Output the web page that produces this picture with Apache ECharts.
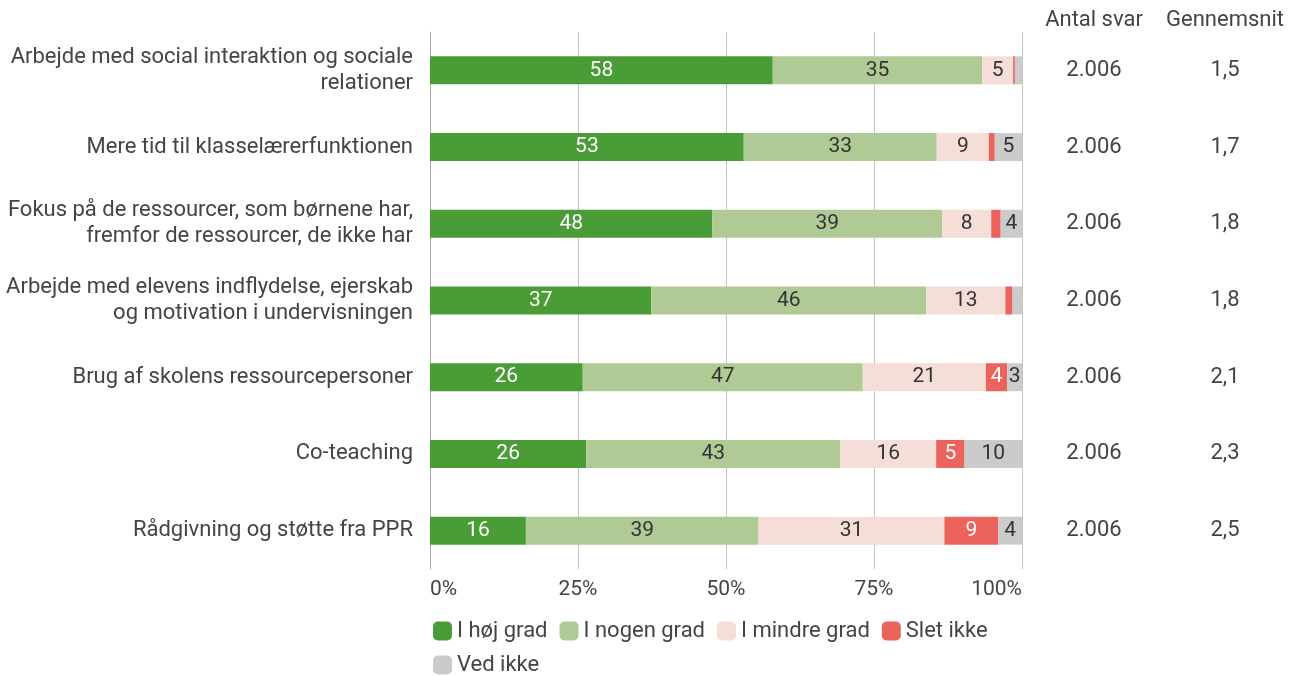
<!DOCTYPE html>
<html>
<head>
<meta charset="utf-8">
<script src="https://cdn.jsdelivr.net/npm/echarts@6/dist/echarts.min.js"></script>
<style>
  html, body { margin: 0; padding: 0; background: #fff; }
  #chart { width: 1298px; height: 676px; }
</style>
</head>
<body>
<div id="chart"></div>
<script>
const categories = [
  "Arbejde med social interaktion og sociale\nrelationer",
  "Mere tid til klasselærerfunktionen",
  "Fokus på de ressourcer, som børnene har,\nfremfor de ressourcer, de ikke har",
  "Arbejde med elevens indflydelse, ejerskab\nog motivation i undervisningen",
  "Brug af skolens ressourcepersoner",
  "Co-teaching",
  "Rådgivning og støtte fra PPR"
];
const hoejGrad = [57.9, 53.0, 47.7, 37.4, 25.8, 26.4, 16.2];
const nogenGrad = [35.4, 32.6, 38.8, 46.4, 47.3, 42.9, 39.3];
const mindreGrad = [5.2, 8.8, 8.3, 13.4, 20.8, 16.2, 31.4];
const sletIkke = [0.3, 1.0, 1.6, 1.2, 3.6, 4.8, 9.1];
const vedIkke = [1.2, 4.6, 3.6, 1.6, 2.5, 9.7, 4.0];
const antalSvar = ["2.006", "2.006", "2.006", "2.006", "2.006", "2.006", "2.006"];
const gennemsnit = ["1,5", "1,7", "1,8", "1,8", "2,1", "2,3", "2,5"];
const xTicks = ["0%", "25%", "50%", "75%", "100%"];

const font = "Roboto";
const textColor = "#444";

function mkSeries(name, data, color, labelColor) {
  return {
    name,
    type: "bar",
    stack: "total",
    barWidth: 28,
    data,
    itemStyle: { color },
    label: {
      show: true,
      position: "inside",
      color: labelColor,
      fontFamily: font,
      fontSize: 21,
      formatter: (p) => (p.value >= 2 ? String(Math.round(p.value)) : "")
    },
    emphasis: { disabled: true }
  };
}

const chart = echarts.init(document.getElementById("chart"));
chart.setOption({
  animation: false,
  textStyle: { fontFamily: font },
  grid: { left: 430, top: 32, width: 592, height: 537, containLabel: false },
  legend: {
    left: 428,
    top: 615,
    width: 600,
    itemWidth: 19,
    itemHeight: 19,
    itemGap: 12,
    icon: "roundRect",
    textStyle: { fontFamily: font, fontSize: 22, color: textColor },
    data: ["I høj grad", "I nogen grad", "I mindre grad", "Slet ikke", "Ved ikke"]
  },
  xAxis: {
    type: "value",
    min: 0,
    max: 100,
    interval: 25,
    axisLine: { show: false },
    axisTick: { show: false },
    splitLine: { lineStyle: { color: "#c4c4c4", width: 1 } },
    axisLabel: {
      fontSize: 21,
      color: textColor,
      margin: 10,
      alignMinLabel: "left",
      alignMaxLabel: "right",
      formatter: (v) => xTicks[v / 25]
    }
  },
  yAxis: [
    {
      type: "category",
      inverse: true,
      data: categories,
      axisLine: { show: true, lineStyle: { color: "#aaa" } },
      axisTick: { show: false },
      axisLabel: { fontSize: 22, color: textColor, margin: 17, lineHeight: 26, align: "right" }
    },
    {
      type: "category",
      inverse: true,
      position: "right",
      offset: 72,
      data: antalSvar,
      name: "Antal svar",
      nameLocation: "start",
      nameGap: 1,
      nameTextStyle: { fontSize: 22, color: textColor, align: "center" },
      axisLine: { show: false },
      axisTick: { show: false },
      axisLabel: { fontSize: 22, color: textColor, margin: 0, align: "center" }
    },
    {
      type: "category",
      inverse: true,
      position: "right",
      offset: 203,
      data: gennemsnit,
      name: "Gennemsnit",
      nameLocation: "start",
      nameGap: 1,
      nameTextStyle: { fontSize: 22, color: textColor, align: "center" },
      axisLine: { show: false },
      axisTick: { show: false },
      axisLabel: { fontSize: 22, color: textColor, margin: 0, align: "center" }
    }
  ],
  series: [
    mkSeries("I høj grad", hoejGrad, "#4a9c37", "#fff"),
    mkSeries("I nogen grad", nogenGrad, "#afca94", "#333"),
    mkSeries("I mindre grad", mindreGrad, "#f5ddd8", "#333"),
    mkSeries("Slet ikke", sletIkke, "#ec635d", "#fff"),
    mkSeries("Ved ikke", vedIkke, "#cbcbcb", "#333")
  ]
});
</script>
</body>
</html>
